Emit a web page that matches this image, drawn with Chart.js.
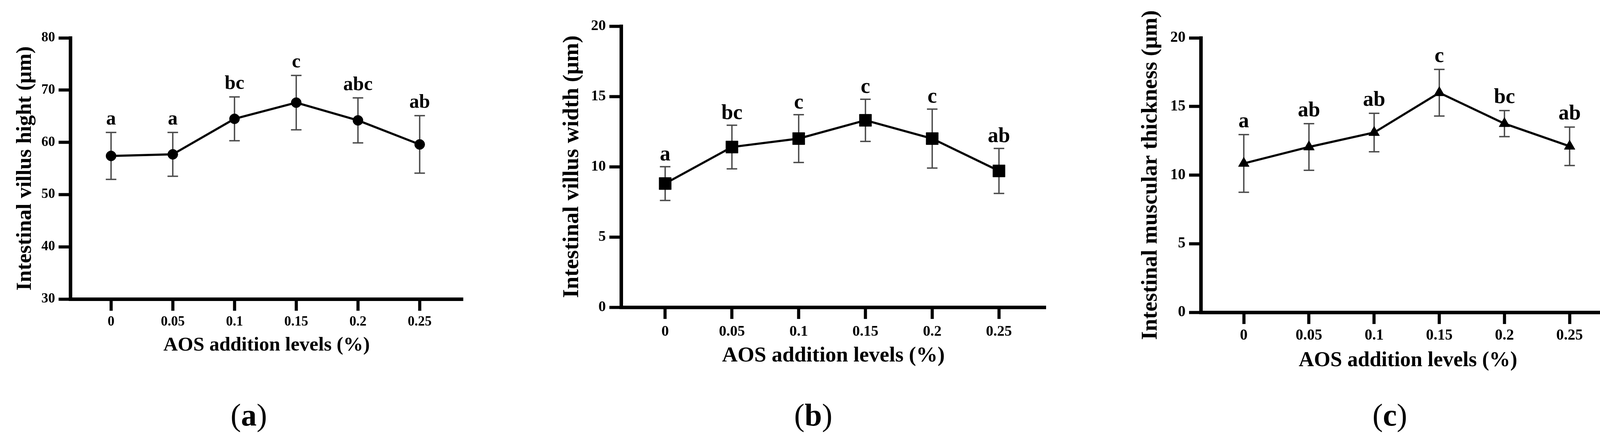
<!DOCTYPE html>
<html>
<head>
<meta charset="utf-8">
<script src="https://cdn.jsdelivr.net/npm/chart.js@4.4.1/dist/chart.umd.min.js"></script>
<style>
html,body{margin:0;padding:0;background:#fff;}
body{width:4170px;height:1145px;position:relative;overflow:hidden;}
canvas{position:absolute;top:0;width:1390px;height:1145px;}
</style>
</head>
<body>
<canvas id="panelA" width="1390" height="1145" style="left:0px;width:1390px;height:1145px"></canvas>
<canvas id="panelB" width="1390" height="1145" style="left:1390px;width:1390px;height:1145px"></canvas>
<canvas id="panelC" width="1390" height="1145" style="left:2780px;width:1390px;height:1145px"></canvas>
<script>
// ---------------- DATA ----------------
const xValues = [0, 0.05, 0.1, 0.15, 0.2, 0.25];
const xTickLabels = ['0', '0.05', '0.1', '0.15', '0.2', '0.25'];

const villusHeightMean = [57.4, 57.7, 64.5, 67.6, 64.2, 59.6];
const villusHeightSD = [4.5, 4.2, 4.2, 5.2, 4.3, 5.5];
const villusHeightLetters = ['a', 'a', 'bc', 'c', 'abc', 'ab'];
const villusHeightTicks = [30, 40, 50, 60, 70, 80];

const villusWidthMean = [8.8, 11.4, 12.0, 13.3, 12.0, 9.7];
const villusWidthSD = [1.2, 1.55, 1.7, 1.5, 2.1, 1.6];
const villusWidthLetters = ['a', 'bc', 'c', 'c', 'c', 'ab'];
const villusWidthTicks = [0, 5, 10, 15, 20];

const muscularMean = [10.85, 12.05, 13.1, 16.0, 13.75, 12.1];
const muscularSD = [2.1, 1.7, 1.4, 1.7, 0.95, 1.4];
const muscularLetters = ['a', 'ab', 'ab', 'c', 'bc', 'ab'];
const muscularTicks = [0, 5, 10, 15, 20];

// ---------------- DRAWING ----------------
const FAMILY = '"Liberation Serif", "Times New Roman", serif';

const errorBarPlugin = {
  id: 'errorBars',
  beforeDatasetsDraw(chart, args, o) {
    const ctx = chart.ctx, x = chart.scales.x, y = chart.scales.y;
    ctx.save();
    ctx.strokeStyle = o.color;
    ctx.lineWidth = o.width;
    o.means.forEach((m, i) => {
      const px = x.getPixelForValue(o.xs[i]);
      const top = y.getPixelForValue(m + o.sd[i]);
      const bot = y.getPixelForValue(m - o.sd[i]);
      ctx.beginPath();
      ctx.moveTo(px, top); ctx.lineTo(px, bot);
      ctx.moveTo(px - o.cap / 2, top); ctx.lineTo(px + o.cap / 2, top);
      ctx.moveTo(px - o.cap / 2, bot); ctx.lineTo(px + o.cap / 2, bot);
      ctx.stroke();
    });
    ctx.restore();
  },
  afterDatasetsDraw(chart, args, o) {
    const ctx = chart.ctx, x = chart.scales.x, y = chart.scales.y;
    ctx.save();
    ctx.fillStyle = '#000';
    ctx.font = 'bold ' + o.letterSize + 'px ' + FAMILY;
    ctx.textAlign = 'center';
    ctx.textBaseline = 'alphabetic';
    o.means.forEach((m, i) => {
      const px = x.getPixelForValue(o.xs[i]);
      const top = y.getPixelForValue(m + o.sd[i]);
      ctx.fillText(o.letters[i], px, top - o.letterGap);
    });
    ctx.restore();
  },
  afterDraw(chart, args, o) {
    const ctx = chart.ctx;
    ctx.save();
    ctx.fillStyle = '#000';
    ctx.textBaseline = 'alphabetic';
    ctx.textAlign = 'left';
    const reg = o.panelSize + 'px ' + FAMILY;
    const bold = 'bold ' + o.panelSize + 'px ' + FAMILY;
    ctx.font = reg; const wp = ctx.measureText('(').width; const wq = ctx.measureText(')').width;
    ctx.font = bold; const wl = ctx.measureText(o.panel).width;
    let sx = o.panelX - (wp + wl + wq) / 2;
    ctx.font = reg; ctx.fillText('(', sx, o.panelY);
    ctx.font = bold; ctx.fillText(o.panel, sx + wp, o.panelY);
    ctx.font = reg; ctx.fillText(')', sx + wp + wl, o.panelY);
    ctx.restore();
  }
};

function makePanel(id, s, means, sd, letters, yTicks, yTitle, pointStyle, pointRadius, panel) {
  const W = 1390, H = 1145;
  new Chart(document.getElementById(id), {
    type: 'line',
    data: {
      datasets: [{
        data: xValues.map((v, i) => ({ x: v, y: means[i] })),
        borderColor: '#000',
        borderWidth: 5.5,
        backgroundColor: '#000',
        pointStyle: pointStyle,
        pointRadius: pointRadius,
        pointBackgroundColor: '#000',
        pointBorderColor: '#000',
        pointBorderWidth: 1,
        tension: 0,
        fill: false
      }]
    },
    plugins: [errorBarPlugin],
    options: {
      responsive: false,
      animation: false,
      devicePixelRatio: 1,
      layout: { padding: { left: 0, top: s.top, right: W - s.right, bottom: 0 } },
      plugins: {
        legend: { display: false },
        tooltip: { enabled: false },
        errorBars: {
          xs: xValues, means: means, sd: sd, letters: letters,
          color: '#4a4a4a', width: 3.5, cap: 27,
          letterSize: s.letter, letterGap: s.letterGap,
          panel: panel, panelX: s.panelX, panelY: 1090, panelSize: 80
        }
      },
      scales: {
        x: {
          type: 'linear',
          min: -0.033, max: 0.285,
          afterBuildTicks: sc => { sc.ticks = xValues.map(v => ({ value: v })); },
          afterFit: sc => { sc.height = H - s.bottom; },
          ticks: {
            autoSkip: false, maxRotation: 0,
            callback: (v, i) => xTickLabels[i],
            color: '#000',
            padding: s.xTickPad,
            font: { family: FAMILY, weight: 'bold', size: s.tick }
          },
          grid: { drawOnChartArea: false, drawTicks: true, tickLength: 30, tickWidth: 8, tickColor: '#000' },
          border: { display: true, width: 9, color: '#000' },
          title: {
            display: true, text: 'AOS addition levels (%)', color: '#000',
            font: { family: FAMILY, weight: 'bold', size: s.xTitle },
            padding: { top: 0, bottom: s.xTitlePad }
          }
        },
        y: {
          min: yTicks[0], max: yTicks[yTicks.length - 1],
          afterBuildTicks: sc => { sc.ticks = yTicks.map(v => ({ value: v })); },
          afterFit: sc => { sc.width = s.left; },
          ticks: {
            callback: (v, i) => String(yTicks[i]),
            color: '#000',
            padding: 9,
            font: { family: FAMILY, weight: 'bold', size: s.tick }
          },
          grid: { drawOnChartArea: false, drawTicks: true, tickLength: 30, tickWidth: 8, tickColor: '#000' },
          border: { display: true, width: 9, color: '#000' },
          title: {
            display: true, text: yTitle, color: '#000',
            font: { family: FAMILY, weight: 'bold', size: s.yTitle },
            padding: { top: s.yTitlePad, bottom: 0 }
          }
        }
      }
    }
  });
}

makePanel('panelA',
  { left: 180, right: 1185, top: 97, bottom: 766, tick: 35, xTitle: 51, yTitle: 55, letter: 50,
    letterGap: 20, xTickPad: 8, xTitlePad: 230, yTitlePad: 32, panelX: 637 },
  villusHeightMean, villusHeightSD, villusHeightLetters, villusHeightTicks,
  'Intestinal villus hight (μm)', 'circle', 13, 'a');

makePanel('panelB',
  { left: 200, right: 1287, top: 67, bottom: 787, tick: 38, xTitle: 55, yTitle: 58, letter: 54,
    letterGap: 16, xTickPad: 10, xTitlePad: 200, yTitlePad: 40, panelX: 692 },
  villusWidthMean, villusWidthSD, villusWidthLetters, villusWidthTicks,
  'Intestinal villus width (μm)', 'rect', 22, 'b');

makePanel('panelC',
  { left: 294, right: 1355, top: 97, bottom: 800, tick: 39, xTitle: 54, yTitle: 57, letter: 54,
    letterGap: 19, xTickPad: 7, xTitlePad: 189, yTitlePad: 132, panelX: 778 },
  muscularMean, muscularSD, muscularLetters, muscularTicks,
  'Intestinal muscular thickness (μm)', 'triangle', 16, 'c');
</script>
</body>
</html>
